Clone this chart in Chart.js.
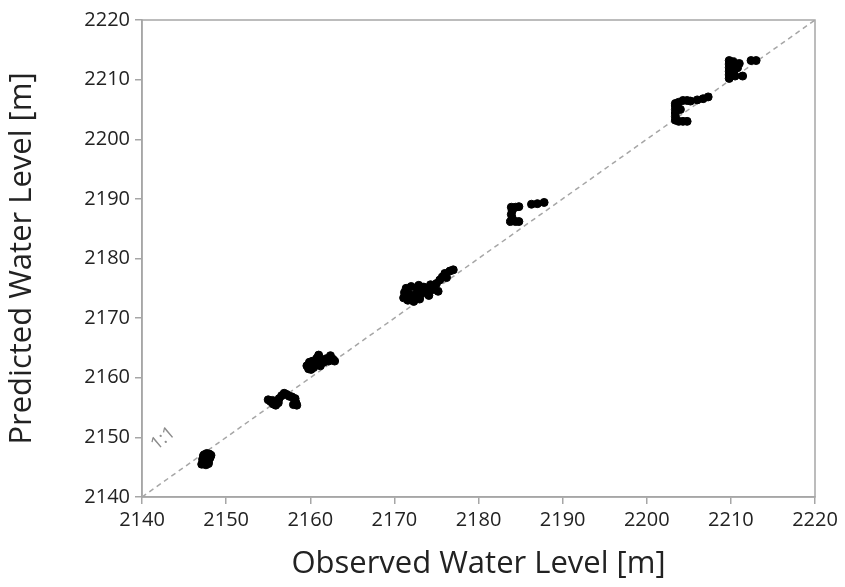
<!DOCTYPE html>
<html>
<head>
<meta charset="utf-8">
<script src="https://cdn.jsdelivr.net/npm/chart.js@4/dist/chart.umd.min.js"></script>
<style>
  html, body { margin: 0; padding: 0; background: #fff; }
  #wrap { width: 845px; height: 587px; }
</style>
</head>
<body>
<div id="wrap"><canvas id="c"></canvas></div>
<script>
// observed / predicted pairs, grouped by site cluster
const obs1  = [2147.1, 2147.3, 2147.6, 2147.9, 2147.2, 2147.5, 2147.8, 2148.1, 2147.4, 2147.7, 2148.0, 2148.2, 2147.3, 2147.9];
const pred1 = [2145.5, 2145.8, 2145.4, 2145.6, 2146.3, 2146.5, 2146.2, 2146.6, 2147.1, 2147.3, 2147.2, 2147.0, 2146.9, 2145.9];

const obs2  = [2155.0, 2155.3, 2155.6, 2155.9, 2156.0, 2156.3, 2156.6, 2156.9, 2157.2, 2157.5, 2157.8, 2158.2, 2158.3, 2158.4, 2158.0, 2155.5, 2156.2];
const pred2 = [2156.3, 2156.0, 2155.6, 2155.4, 2156.0, 2156.5, 2157.0, 2157.4, 2157.2, 2156.9, 2156.8, 2156.5, 2155.8, 2155.4, 2155.5, 2156.2, 2155.8];

const obs3  = [2159.6, 2159.8, 2160.1, 2160.4, 2160.7, 2159.9, 2160.3, 2160.8, 2161.0, 2161.3, 2161.6, 2161.9, 2162.2, 2162.4, 2162.7, 2162.9, 2161.2];
const pred3 = [2162.0, 2161.5, 2161.4, 2161.7, 2162.2, 2162.6, 2162.8, 2163.3, 2163.8, 2163.0, 2162.6, 2163.2, 2162.8, 2163.7, 2163.1, 2162.8, 2162.0];

const obs4  = [2171.1, 2171.2, 2171.4, 2171.6, 2171.8, 2172.0, 2172.3, 2172.5, 2172.7, 2172.9, 2173.2, 2173.5, 2173.8, 2174.1, 2174.3, 2174.6, 2175.0, 2175.2, 2175.4, 2175.7, 2176.0, 2176.2, 2176.6, 2177.0, 2172.0, 2173.0, 2171.3, 2172.6, 2173.6];
const pred4 = [2173.4, 2174.3, 2175.0, 2173.0, 2174.0, 2175.3, 2172.8, 2173.6, 2174.6, 2175.5, 2174.1, 2175.2, 2174.5, 2173.8, 2175.6, 2174.8, 2175.8, 2174.5, 2176.4, 2176.9, 2177.5, 2176.8, 2177.9, 2178.1, 2173.5, 2173.2, 2173.9, 2174.0, 2174.8];

const obs5  = [2183.8, 2184.0, 2183.9, 2184.0, 2183.9, 2184.4, 2184.8, 2184.4, 2184.8, 2186.3, 2187.0, 2187.8];
const pred5 = [2186.2, 2186.8, 2187.4, 2188.0, 2188.6, 2188.6, 2188.7, 2186.2, 2186.2, 2189.1, 2189.2, 2189.4];

const obs6  = [2203.4, 2203.4, 2203.4, 2203.4, 2203.4, 2203.4, 2203.8, 2204.3, 2204.8, 2203.8, 2204.3, 2204.8, 2205.2, 2206.0, 2206.7, 2207.3, 2204.0];
const pred6 = [2203.2, 2203.8, 2204.4, 2205.0, 2205.6, 2206.0, 2203.0, 2203.0, 2203.0, 2206.2, 2206.5, 2206.5, 2206.4, 2206.6, 2206.8, 2207.1, 2205.0];

const obs7  = [2209.8, 2209.8, 2209.8, 2209.8, 2209.8, 2209.8, 2210.3, 2210.4, 2210.8, 2210.5, 2211.0, 2211.4, 2212.4, 2213.0, 2210.2];
const pred7 = [2210.2, 2210.8, 2211.4, 2212.0, 2212.6, 2213.2, 2213.0, 2211.5, 2212.0, 2210.6, 2212.7, 2210.6, 2213.2, 2213.2, 2212.2];

const axisMin = 2140, axisMax = 2220, axisStep = 10;
const xTitle = 'Observed Water Level [m]';
const yTitle = 'Predicted Water Level [m]';
const lineLabel = '1:1';

const obsAll  = [].concat(obs1, obs2, obs3, obs4, obs5, obs6, obs7);
const predAll = [].concat(pred1, pred2, pred3, pred4, pred5, pred6, pred7);
const points = obsAll.map((x, i) => ({ x, y: predAll[i] }));

const GREY = '#a6a6a6';
const FONT = "'Open Sans', sans-serif";

// box border + dashed 1:1 line + label
const extras = {
  id: 'extras',
  beforeDatasetsDraw(chart) {
    const { ctx, chartArea: a, scales: { x, y } } = chart;
    ctx.save();
    ctx.strokeStyle = GREY;
    ctx.lineWidth = 1.5;
    ctx.strokeRect(a.left, a.top, a.right - a.left, a.bottom - a.top);

    const x0 = x.getPixelForValue(axisMin), y0 = y.getPixelForValue(axisMin);
    const x1 = x.getPixelForValue(axisMax), y1 = y.getPixelForValue(axisMax);
    ctx.setLineDash([5, 4]);
    ctx.lineWidth = 1.5;
    ctx.beginPath();
    ctx.moveTo(x0, y0);
    ctx.lineTo(x1, y1);
    ctx.stroke();
    ctx.setLineDash([]);

    const lx = x.getPixelForValue(2142.5), ly = y.getPixelForValue(2149.8);
    ctx.translate(lx, ly);
    ctx.rotate(-0.7);
    ctx.fillStyle = '#8c8c8c';
    ctx.font = '18px ' + FONT;
    ctx.textAlign = 'center';
    ctx.textBaseline = 'middle';
    ctx.fillText(lineLabel, 0, 0);
    ctx.restore();
  }
};

new Chart(document.getElementById('c'), {
  type: 'scatter',
  data: {
    datasets: [{
      data: points,
      backgroundColor: '#000',
      borderColor: '#000',
      pointRadius: 4,
      pointHoverRadius: 4
    }]
  },
  options: {
    responsive: true,
    maintainAspectRatio: false,
    animation: false,
    layout: { padding: { top: 20, right: 30, left: 0, bottom: 0 } },
    plugins: { legend: { display: false }, tooltip: { enabled: false } },
    scales: {
      x: {
        min: axisMin, max: axisMax,
        border: { color: GREY, width: 1.5 },
        grid: { drawOnChartArea: false, color: GREY, tickLength: 7, lineWidth: 1.5 },
        ticks: { stepSize: axisStep, color: '#222', font: { family: FONT, size: 20 }, padding: 4, callback: v => String(v) },
        title: { display: true, text: xTitle, color: '#222', font: { family: FONT, size: 31 }, padding: { top: 2 } },
        afterFit(s) { s.height = 90; }
      },
      y: {
        min: axisMin, max: axisMax,
        border: { color: GREY, width: 1.5 },
        grid: { drawOnChartArea: false, color: GREY, tickLength: 7, lineWidth: 1.5 },
        ticks: { stepSize: axisStep, color: '#222', font: { family: FONT, size: 20 }, padding: 5, callback: v => String(v) },
        title: { display: true, text: yTitle, color: '#222', font: { family: FONT, size: 31 }, padding: { bottom: 2 } },
        afterFit(s) { s.width = 142; }
      }
    }
  },
  plugins: [extras]
});
</script>
</body>
</html>
